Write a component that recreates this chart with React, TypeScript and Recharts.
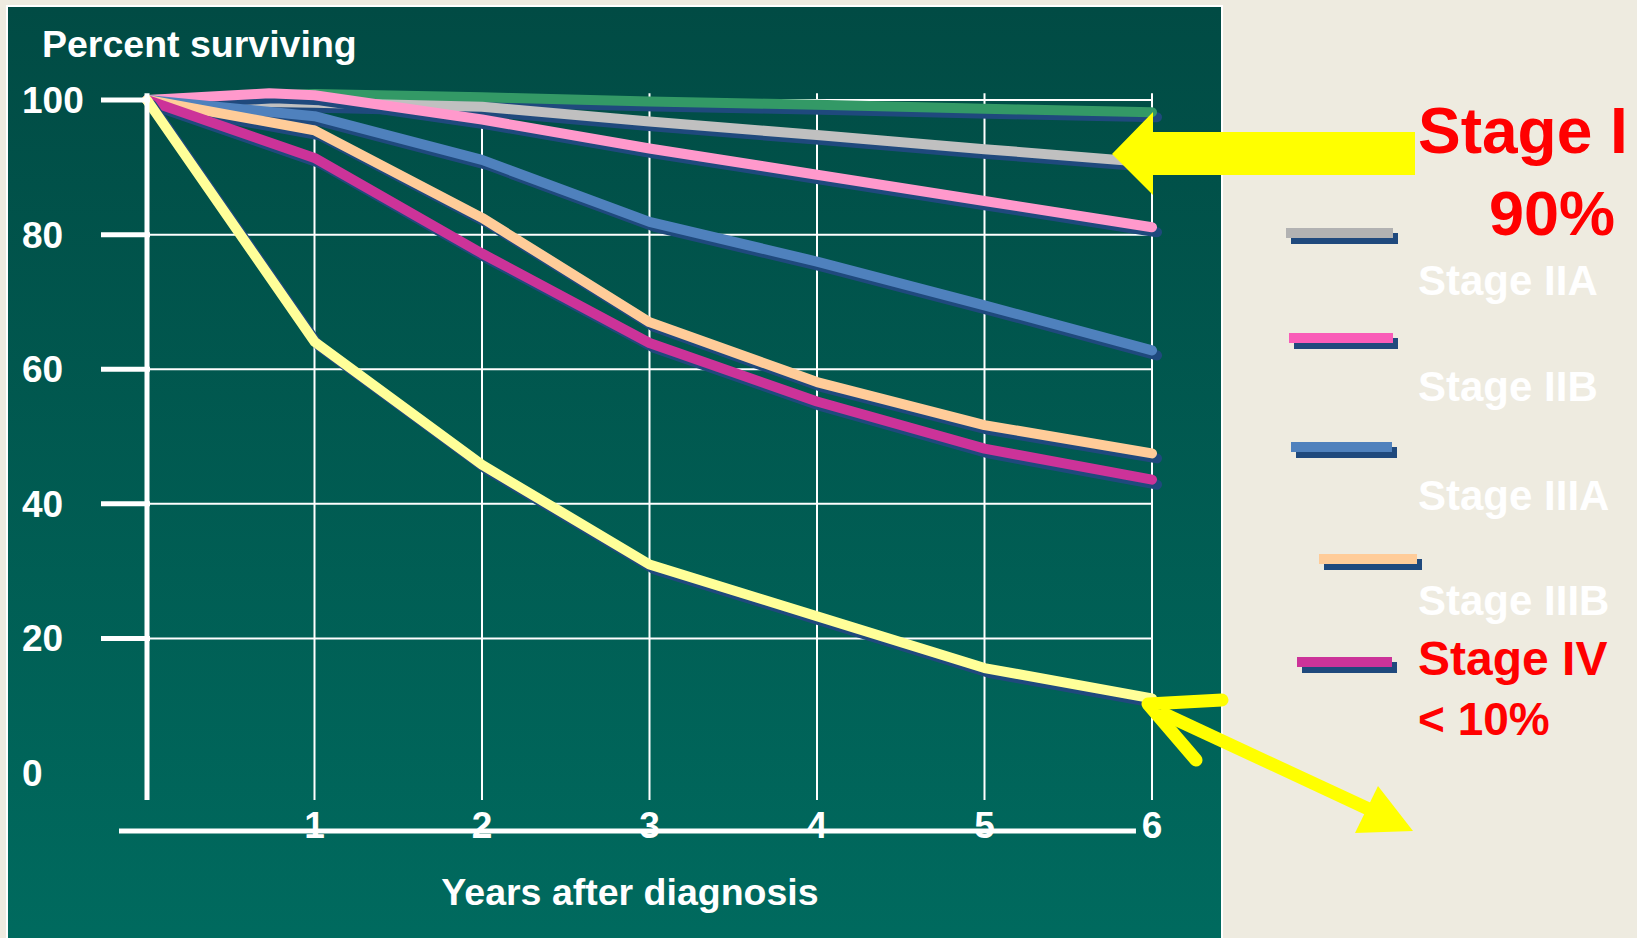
import React from 'react';
import { LineChart, Line, XAxis, YAxis, CartesianGrid } from 'recharts';

// ---------- data ----------
const years = [0, 1, 2, 3, 4, 5, 6];
const stageIIAYears = [0, 0.73, 1, 2, 3, 4, 5, 6];

const stage0 = [100, 100.9, 100.4, 99.8, 99.3, 98.7, 98.2];
const stageI = [100, 99.6, 99.0, 96.8, 94.8, 92.7, 90.7];
const stageIIA = [100, 101, 100.7, 97.1, 92.8, 88.9, 85.0, 81.1];
const stageIIB = [100, 97.6, 91.1, 81.9, 76.0, 69.5, 62.8];
const stageIIIA = [100, 95.5, 82.5, 67.0, 58.1, 51.7, 47.5];
const stageIIIB = [100, 91.4, 77.2, 63.9, 55.2, 48.2, 43.6];
const stageIV = [100, 64.1, 45.8, 31.0, 23.3, 15.6, 11.1];

const yTicks = [0, 20, 40, 60, 80, 100];
const yGridValues = [20, 40, 60, 80, 100];
const xTicks = [1, 2, 3, 4, 5, 6];

const seriesNames = ['Stage 0', 'Stage I', 'Stage IIA', 'Stage IIB', 'Stage IIIA', 'Stage IIIB', 'Stage IV'];
const seriesColors = ['#339966', '#C0C0C0', '#FF99CC', '#4F81BD', '#FFCC99', '#CC3399', '#FFFF99'];

const legendLabels = ['Stage IIA', 'Stage IIB', 'Stage IIIA', 'Stage IIIB'];
const legendSwatchColors = ['#B2B2B2', '#F95CB8', '#4F81BD', '#FFCC99', '#CC3399'];

const FONT = '"Liberation Sans", Arial, sans-serif';
const SHADOW = '#1F497D';

const toPoints = (xs: number[], ys: number[]) => xs.map((x, i) => ({ year: x, value: ys[i] }));

const seriesData = [
  toPoints(years, stage0),
  toPoints(years, stageI),
  toPoints(stageIIAYears, stageIIA),
  toPoints(years, stageIIB),
  toPoints(years, stageIIIA),
  toPoints(years, stageIIIB),
  toPoints(years, stageIV),
];

// legend layout (positions only)
const swatchLayout = [
  { x: 1286, y: 228, w: 107 },
  { x: 1289, y: 333, w: 104 },
  { x: 1291, y: 442, w: 101 },
  { x: 1319, y: 554, w: 98 },
  { x: 1297, y: 657, w: 95 },
];
const labelBaselines = [295, 401, 510, 615];

const YTick = (props: any) => {
  const { y, payload } = props;
  return (
    <g>
      {payload.value > 0 && (
        <line x1={101} x2={150} y1={y} y2={y} stroke="#fff" strokeWidth={5} />
      )}
      <text x={22} y={y + 13} fill="#fff" fontFamily={FONT} fontWeight="bold" fontSize={37} textAnchor="start">
        {payload.value}
      </text>
    </g>
  );
};

const XTick = (props: any) => {
  const { x, y, payload } = props;
  return (
    <text x={x} y={y + 38} fill="#fff" fontFamily={FONT} fontWeight="bold" fontSize={37} textAnchor="middle">
      {payload.value}
    </text>
  );
};

export default function App() {
  return (
    <div style={{ position: 'fixed', left: 0, top: 0, width: 1637, height: 938, background: '#EEEBE0', overflow: 'hidden' }}>
      <style>{`.shadowed { filter: drop-shadow(5px 5px 0 ${SHADOW}); }`}</style>
      <div
        style={{
          position: 'absolute',
          left: 6,
          top: 5,
          width: 1217,
          height: 960,
          boxSizing: 'border-box',
          border: '2px solid #ffffff',
          background: 'linear-gradient(to bottom, #014B44 0%, #006B5F 100%)',
        }}
      />
      <div style={{ position: 'absolute', left: 0, top: 0 }}>
        <LineChart width={1637} height={938} margin={{ top: 93.3, right: 485, bottom: 78, left: 0 }}>
          <CartesianGrid stroke="#ffffff" strokeWidth={2} horizontalValues={yGridValues} verticalValues={xTicks} fill="none" />
          <XAxis
            type="number"
            dataKey="year"
            domain={[0, 6]}
            ticks={xTicks}
            interval={0}
            height={60}
            tickSize={0}
            tickMargin={0}
            tickLine={false}
            axisLine={{ stroke: '#ffffff', strokeWidth: 5, transform: 'matrix(1.0119 0 0 1 -29.75 31)' } as any}
            tick={<XTick />}
            label={{
              value: 'Years after diagnosis',
              content: () => (
                <text x={630} y={905} fill="#fff" fontFamily={FONT} fontWeight="bold" fontSize={37.5} textAnchor="middle">
                  Years after diagnosis
                </text>
              ),
            } as any}
          />
          <YAxis
            type="number"
            domain={[-4, 101]}
            ticks={yTicks}
            interval={0}
            width={147}
            tickLine={false}
            axisLine={{ stroke: '#ffffff', strokeWidth: 5 }}
            tick={<YTick />}
            label={{
              value: 'Percent surviving',
              content: () => (
                <text x={42} y={57} fill="#fff" fontFamily={FONT} fontWeight="bold" fontSize={37.5} textAnchor="start">
                  Percent surviving
                </text>
              ),
            } as any}
          />
          {seriesData.map((d, i) => (
            <Line
              key={seriesNames[i]}
              name={seriesNames[i]}
              data={d}
              dataKey="value"
              type="linear"
              stroke={seriesColors[i]}
              strokeWidth={10}
              strokeLinecap="round"
              strokeLinejoin="round"
              dot={false}
              activeDot={false}
              className="shadowed"
              isAnimationActive={false}
            />
          ))}
        </LineChart>
      </div>
      <svg
        width={1637}
        height={938}
        style={{ position: 'absolute', left: 0, top: 0, pointerEvents: 'none' }}
        fontFamily={FONT}
        fontWeight="bold"
      >
        {/* legend swatches */}
        {swatchLayout.map((s, i) => (
          <g key={i}>
            <rect x={s.x + 5} y={s.y + 5} width={s.w} height={11} fill={SHADOW} />
            <rect x={s.x} y={s.y} width={s.w} height={10} fill={legendSwatchColors[i]} />
          </g>
        ))}
        {legendLabels.map((t, i) => (
          <text key={t} x={1418} y={labelBaselines[i]} fill="#ffffff" fontSize={42}>
            {t}
          </text>
        ))}
        <text x={1418} y={675} fill="#FF0000" fontSize={48}>Stage IV</text>
        <text x={1418} y={735} fill="#FF0000" fontSize={46}>{'< 10%'}</text>
        <text x={1418} y={153} fill="#FF0000" fontSize={64}>Stage I</text>
        <text x={1489} y={235} fill="#FF0000" fontSize={63}>90%</text>

        {/* big arrow pointing to Stage I line */}
        <polygon
          points="1415,132 1153,132 1153,112 1112,154 1153,195 1153,175 1415,175"
          fill="#FFFF00"
        />
        {/* arrows pointing to Stage IV line */}
        <polyline
          points="1222,700 1148,704 1196,760"
          fill="none"
          stroke="#FFFF00"
          strokeWidth={13}
          strokeLinecap="round"
          strokeLinejoin="round"
        />
        <line x1={1160} y1={712} x2={1375} y2={812} stroke="#FFFF00" strokeWidth={13} />
        <polygon points="1378,786 1413,831 1355,833" fill="#FFFF00" />
      </svg>
    </div>
  );
}
